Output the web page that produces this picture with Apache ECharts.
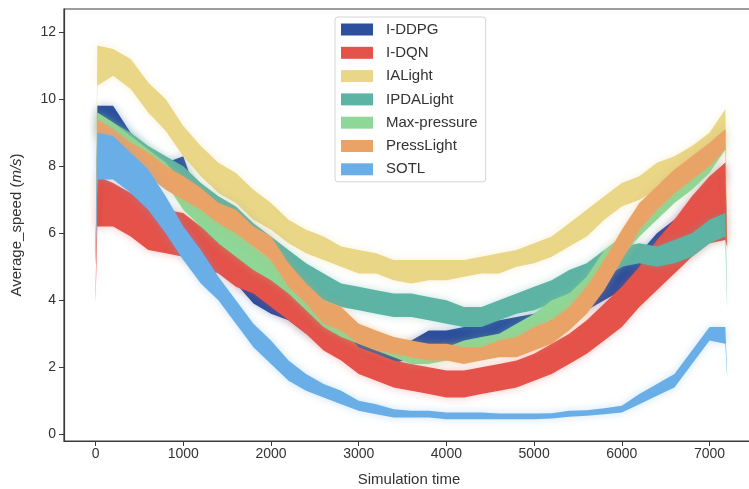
<!DOCTYPE html>
<html>
<head>
<meta charset="utf-8">
<script src="https://cdn.jsdelivr.net/npm/echarts@6/dist/echarts.min.js"></script>
<style>
  html, body { margin: 0; padding: 0; background: #fff; }
  #myChart { width: 749px; height: 489px; }
</style>
</head>
<body>
<div id="myChart"></div>
<script>
// simulation time of every sample
var times = [0, 20, 200, 400, 600, 800, 1000, 1200, 1400, 1600, 1800, 2000, 2200, 2400, 2600, 2800, 3000, 3200, 3400, 3600,
  3800, 4000, 4200, 4400, 4600, 4800, 5000, 5200, 5400, 5600, 5800, 6000, 6200, 6400, 6600, 6800, 7000, 7180, 7200];

// lower / upper edge of each noisy speed band (m/s)
var iddpgLo = [5.0, 9.0, 9.1, 8.5, 8.0, 7.6, 7.6, 6.2, 5.2, 4.5, 3.9, 3.6, 3.4, 3.0, 2.7, 2.5, 2.3, 2.1, 2.1, 2.3,
  2.6, 2.6, 2.6, 2.7, 2.9, 3.0, 3.1, 3.3, 3.5, 3.7, 4.0, 4.3, 4.7, 5.3, 5.8, 6.4, 7.0, 7.6, 5.5];
var iddpgHi = [5.2, 9.8, 9.8, 9.0, 8.5, 8.1, 8.3, 6.8, 5.8, 5.2, 4.5, 4.2, 4.0, 3.6, 3.2, 3.0, 2.8, 2.6, 2.5, 2.8,
  3.1, 3.1, 3.2, 3.3, 3.4, 3.5, 3.6, 3.9, 4.1, 4.3, 4.7, 5.0, 5.4, 6.0, 6.4, 7.0, 7.6, 8.1, 5.8];

var idqnLo = [3.9, 6.2, 6.2, 5.9, 5.5, 5.4, 5.3, 5.0, 4.8, 4.4, 4.2, 3.8, 3.4, 3.0, 2.5, 2.2, 1.8, 1.6, 1.4, 1.3,
  1.2, 1.1, 1.1, 1.2, 1.3, 1.4, 1.6, 1.8, 2.1, 2.4, 2.8, 3.2, 3.8, 4.3, 4.8, 5.3, 5.7, 5.8, 5.6];
var idqnHi = [4.2, 7.7, 7.5, 7.2, 6.9, 6.7, 6.6, 6.2, 5.7, 5.5, 5.3, 4.9, 4.6, 4.1, 3.4, 3.2, 2.6, 2.4, 2.2, 2.1,
  2.0, 1.9, 1.9, 2.0, 2.1, 2.2, 2.4, 2.7, 3.0, 3.4, 3.9, 4.4, 5.0, 5.8, 6.4, 7.1, 7.7, 8.1, 5.9];

var ialightLo = [5.2, 10.4, 10.7, 10.3, 9.6, 9.05, 8.3, 7.7, 7.2, 6.9, 6.4, 6.1, 5.7, 5.4, 5.2, 5.0, 4.8, 4.8, 4.6, 4.5,
  4.6, 4.6, 4.7, 4.8, 4.8, 5.0, 5.1, 5.3, 5.6, 5.9, 6.4, 6.8, 7.0, 7.3, 7.6, 7.9, 8.3, 8.9, 6.6];
var ialightHi = [5.5, 11.6, 11.5, 11.2, 10.5, 10.0, 9.2, 8.6, 8.1, 7.8, 7.3, 6.9, 6.4, 6.1, 5.9, 5.6, 5.5, 5.4, 5.2, 5.2,
  5.2, 5.2, 5.2, 5.3, 5.4, 5.5, 5.7, 5.9, 6.3, 6.7, 7.1, 7.5, 7.7, 8.1, 8.3, 8.6, 9.0, 9.7, 6.9];

var ipdaLo = [5.1, 8.8, 8.6, 8.3, 7.9, 7.6, 7.3, 6.8, 6.4, 6.1, 5.7, 5.2, 4.8, 4.4, 4.0, 3.8, 3.7, 3.6, 3.5, 3.5,
  3.4, 3.3, 3.2, 3.2, 3.4, 3.6, 3.7, 3.9, 4.2, 4.4, 4.7, 5.0, 5.1, 5.0, 5.1, 5.3, 5.7, 5.9, 3.8];
var ipdaHi = [5.3, 9.6, 9.3, 9.0, 8.6, 8.3, 8.0, 7.5, 7.1, 6.8, 6.3, 5.9, 5.5, 5.1, 4.8, 4.5, 4.4, 4.3, 4.2, 4.2,
  4.1, 4.0, 3.8, 3.8, 4.0, 4.2, 4.4, 4.6, 4.9, 5.1, 5.5, 5.6, 5.7, 5.6, 5.8, 6.0, 6.4, 6.6, 4.0];

var maxpLo = [5.1, 9.0, 8.7, 8.3, 7.9, 7.5, 6.7, 6.2, 5.7, 5.3, 4.9, 4.6, 4.2, 3.7, 3.2, 2.9, 2.7, 2.5, 2.3, 2.1,
  2.1, 2.2, 2.3, 2.5, 2.6, 2.8, 3.1, 3.4, 3.6, 4.0, 4.8, 5.3, 5.9, 6.4, 6.9, 7.3, 7.8, 8.5, 4.0];
var maxpHi = [5.3, 9.6, 9.3, 8.9, 8.5, 8.1, 7.5, 7.2, 6.7, 6.1, 5.6, 5.2, 4.8, 4.3, 3.8, 3.4, 3.2, 3.0, 2.8, 2.6,
  2.5, 2.6, 2.8, 2.9, 3.0, 3.3, 3.6, 4.0, 4.2, 4.7, 5.5, 5.9, 6.5, 7.0, 7.4, 7.9, 8.4, 9.1, 4.2];

var pressLo = [5.0, 8.8, 8.5, 8.0, 7.7, 7.3, 7.0, 6.7, 6.3, 6.0, 5.6, 5.2, 4.4, 3.9, 3.3, 3.1, 2.7, 2.5, 2.4, 2.3,
  2.2, 2.2, 2.1, 2.2, 2.3, 2.3, 2.5, 2.7, 3.1, 3.6, 4.3, 5.2, 6.1, 6.7, 7.2, 7.6, 8.0, 8.5, 5.4];
var pressHi = [5.2, 9.4, 9.1, 8.7, 8.4, 8.0, 7.7, 7.35, 6.9, 6.7, 6.2, 5.9, 5.1, 4.5, 4.0, 3.8, 3.3, 3.1, 2.9, 2.8,
  2.7, 2.7, 2.6, 2.6, 2.8, 2.9, 3.2, 3.4, 3.8, 4.4, 5.2, 6.1, 6.9, 7.4, 7.9, 8.3, 8.7, 9.1, 5.6];

var sotlLo = [5.0, 7.6, 7.6, 7.2, 6.7, 6.0, 5.2, 4.5, 4.0, 3.3, 2.6, 2.1, 1.6, 1.3, 1.1, 0.9, 0.7, 0.6, 0.5, 0.5,
  0.5, 0.45, 0.45, 0.45, 0.45, 0.45, 0.45, 0.47, 0.52, 0.55, 0.6, 0.65, 0.9, 1.15, 1.4, 2.1, 2.8, 2.7, 1.7];
var sotlHi = [5.4, 9.0, 8.9, 8.4, 7.9, 7.1, 6.2, 5.5, 4.7, 4.0, 3.3, 2.8, 2.2, 1.8, 1.5, 1.3, 1.0, 0.9, 0.75, 0.7,
  0.7, 0.65, 0.65, 0.65, 0.62, 0.62, 0.62, 0.63, 0.7, 0.72, 0.78, 0.85, 1.2, 1.5, 1.8, 2.5, 3.2, 3.2, 1.9];

var names = ['I-DDPG', 'I-DQN', 'IALight', 'IPDALight', 'Max-pressure', 'PressLight', 'SOTL'];
var colors = ['#2c4f9e', '#e4524a', '#e9d687', '#5db3a4', '#8ed796', '#eaa367', '#6aaee8'];
var xTicks = [0, 1000, 2000, 3000, 4000, 5000, 6000, 7000];
var yTicks = [0, 2, 4, 6, 8, 10, 12];

var fontName = "'Liberation Sans', Arial, sans-serif";

function withAlpha(hex, a) {
  var n = parseInt(hex.slice(1), 16);
  return 'rgba(' + (n >> 16) + ',' + ((n >> 8) & 255) + ',' + (n & 255) + ',' + a + ')';
}

// one filled band (polygon between lo and hi) per method
function bandSeries(name, color, lo, hi) {
  var rows = times.map(function (t, i) { return [t, lo[i], hi[i]]; });
  return {
    name: name,
    type: 'custom',
    coordinateSystem: 'cartesian2d',
    encode: { x: 0, y: [1, 2] },
    itemStyle: { color: color },
    silent: true,
    clip: true,
    data: rows,
    renderItem: function (params, api) {
      if (params.dataIndex !== 0) return null;
      var pts = [];
      for (var i = 0; i < rows.length; i++) pts.push(api.coord([rows[i][0], rows[i][2]]));
      for (var j = rows.length - 1; j >= 0; j--) pts.push(api.coord([rows[j][0], rows[j][1]]));
      return {
        type: 'polygon',
        shape: { points: pts },
        style: { fill: color, shadowBlur: 9, shadowColor: withAlpha(color, 0.35) }
      };
    }
  };
}

var myChart = echarts.init(document.getElementById('myChart'));
myChart.setOption({
  animation: false,
  textStyle: { fontFamily: fontName },
  grid: {
    left: 64, right: -5, top: 9, bottom: 48,
    show: true, borderColor: '#3a3a3a', borderWidth: 1.2,
    outerBoundsMode: 'none'
  },
  legend: {
    orient: 'vertical',
    left: 335, top: 17,
    icon: 'rect',
    itemWidth: 32, itemHeight: 12, itemGap: 8.3,
    padding: [5, 8, 5, 6],
    backgroundColor: 'rgba(255,255,255,0.9)',
    borderColor: '#d4d4d4', borderWidth: 1, borderRadius: 3,
    textStyle: { fontSize: 15, color: '#333', padding: [0, 0, 0, 8], fontFamily: fontName },
    data: names
  },
  xAxis: {
    type: 'value',
    min: -360, max: 7507,
    name: 'Simulation time',
    nameLocation: 'middle', nameGap: 31,
    nameTextStyle: { fontSize: 15, color: '#333', fontFamily: fontName },
    axisLine: { show: true, onZero: false, lineStyle: { color: '#3a3a3a', width: 1.2 } },
    axisTick: { show: true, length: 5, customValues: xTicks, lineStyle: { color: '#3a3a3a' } },
    axisLabel: {
      customValues: xTicks, fontSize: 14, color: '#333', margin: 6, fontFamily: fontName,
      formatter: function (v) { return String(v); }
    },
    splitLine: { show: false }
  },
  yAxis: {
    type: 'value',
    min: -0.2, max: 12.69,
    name: 'Average_speed ({i|m/s})',
    nameLocation: 'middle', nameGap: 40,
    nameTextStyle: {
      fontSize: 15, color: '#333', fontFamily: fontName,
      rich: { i: { fontSize: 15, fontStyle: 'italic', color: '#333', fontFamily: fontName } }
    },
    axisLine: { show: true, onZero: false, lineStyle: { color: '#3a3a3a', width: 1.2 } },
    axisTick: { show: true, length: 5, customValues: yTicks, lineStyle: { color: '#3a3a3a' } },
    axisLabel: { customValues: yTicks, fontSize: 14, color: '#333', margin: 8, fontFamily: fontName },
    splitLine: { show: false }
  },
  series: [
    bandSeries(names[0], colors[0], iddpgLo, iddpgHi),
    bandSeries(names[1], colors[1], idqnLo, idqnHi),
    bandSeries(names[2], colors[2], ialightLo, ialightHi),
    bandSeries(names[3], colors[3], ipdaLo, ipdaHi),
    bandSeries(names[4], colors[4], maxpLo, maxpHi),
    bandSeries(names[5], colors[5], pressLo, pressHi),
    bandSeries(names[6], colors[6], sotlLo, sotlHi)
  ]
});
</script>
</body>
</html>
